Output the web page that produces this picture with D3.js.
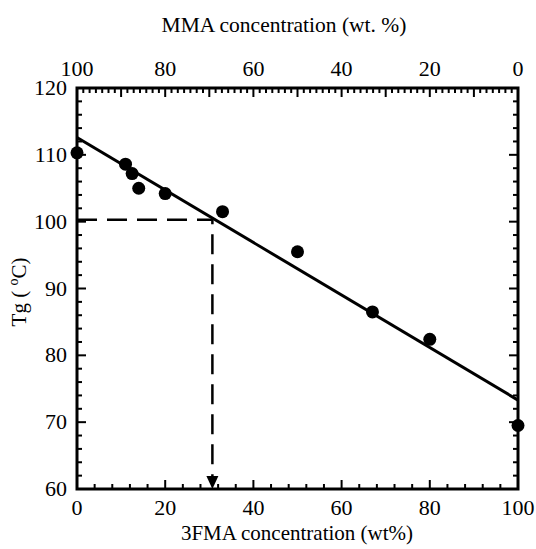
<!DOCTYPE html>
<html>
<head>
<meta charset="utf-8">
<script src="https://cdn.jsdelivr.net/npm/d3@7"></script>
<style>
  body { margin: 0; background: #fff; }
  svg text { font-family: "Liberation Serif", "Times New Roman", serif; fill: #000; }
</style>
</head>
<body>
<div id="plot"></div>
<script>
// data: 3FMA wt% vs Tg (C)
const fmaConc = [0, 11, 12.5, 14, 20, 33, 50, 67, 80, 100];
const tgValues = [110.3, 108.6, 107.2, 105, 104.2, 101.5, 95.5, 86.5, 82.4, 69.5];
const fitLine = [[0, 112.6], [100, 73.3]]; // linear fit ends
const guideX = 30.7, guideY = 100.3; // dashed read-off at 100 C

const bottomTicks = [0, 20, 40, 60, 80, 100];
const topTicks = [100, 80, 60, 40, 20, 0]; // MMA = 100 - 3FMA
const yTicks = [60, 70, 80, 90, 100, 110, 120];

const width = 536, height = 549;
const margin = { top: 88, right: 18, bottom: 60, left: 77 };
const innerW = width - margin.left - margin.right;
const innerH = height - margin.top - margin.bottom;

const svg = d3.select("div#plot").append("svg")
    .attr("width", width)
    .attr("height", height);

const g = svg.append("g").attr("transform", `translate(${margin.left},${margin.top})`);

const x = d3.scaleLinear().domain([0, 100]).range([0, innerW]);
const xTop = d3.scaleLinear().domain([100, 0]).range([0, innerW]);
const y = d3.scaleLinear().domain([60, 120]).range([innerH, 0]);

// minor ticks, all pointing inward
const tickG = g.append("g").attr("stroke", "#000").attr("stroke-width", 2);

d3.range(0, 100.01, 4).forEach(v => {
    const len = v % 20 === 0 ? 9 : 5;
    tickG.append("line").attr("x1", x(v)).attr("x2", x(v)).attr("y1", innerH).attr("y2", innerH - len);
});
d3.range(0, 100.01, 10 / 7).forEach(v => {
    const major = Math.abs(v - Math.round(v / 10) * 10) < 0.01;
    const len = major ? 9 : 5;
    tickG.append("line").attr("x1", xTop(v)).attr("x2", xTop(v)).attr("y1", 0).attr("y2", len);
});
d3.range(60, 120.01, 2).forEach(v => {
    const len = v % 10 === 0 ? 9 : 5;
    tickG.append("line").attr("x1", 0).attr("x2", len).attr("y1", y(v)).attr("y2", y(v));
    tickG.append("line").attr("x1", innerW).attr("x2", innerW - len).attr("y1", y(v)).attr("y2", y(v));
});

// tick labels
g.selectAll("text.xb").data(bottomTicks).enter().append("text")
    .attr("class", "xb")
    .attr("x", d => x(d)).attr("y", innerH + 26)
    .attr("text-anchor", "middle").attr("font-size", 22)
    .text(d => d);

g.selectAll("text.xt").data(topTicks).enter().append("text")
    .attr("class", "xt")
    .attr("x", d => xTop(d)).attr("y", -12)
    .attr("text-anchor", "middle").attr("font-size", 22)
    .text(d => d);

g.selectAll("text.yl").data(yTicks).enter().append("text")
    .attr("class", "yl")
    .attr("x", -10).attr("y", d => y(d) + 7)
    .attr("text-anchor", "end").attr("font-size", 22)
    .text(d => d);

// axis titles
svg.append("text")
    .attr("x", 284).attr("y", 32)
    .attr("text-anchor", "middle").attr("font-size", 21.5)
    .text("MMA concentration (wt. %)");

svg.append("text")
    .attr("x", 297).attr("y", 540)
    .attr("text-anchor", "middle").attr("font-size", 21)
    .text("3FMA concentration (wt%)");

const yTitle = svg.append("text")
    .attr("transform", "translate(26,292) rotate(-90)")
    .attr("text-anchor", "middle").attr("font-size", 21);
yTitle.append("tspan").text("Tg ( ");
yTitle.append("tspan").attr("font-size", 14).attr("dy", -8).text("o");
yTitle.append("tspan").attr("dy", 8).text("C)");

// dashed guide
const guide = d3.line().x(d => x(d[0])).y(d => y(d[1]));
g.append("path")
    .attr("d", guide([[0, guideY], [guideX, guideY], [guideX, 61.8]]))
    .attr("fill", "none").attr("stroke", "#000").attr("stroke-width", 2.5)
    .attr("stroke-dasharray", "20,10");

// arrow head
const ax = x(guideX), ay = y(60);
g.append("path")
    .attr("d", `M${ax - 6},${ay - 13} L${ax + 6},${ay - 13} L${ax},${ay} Z`)
    .attr("fill", "#000");

// fitted line
g.append("path")
    .attr("d", d3.line().x(d => x(d[0])).y(d => y(d[1]))(fitLine))
    .attr("fill", "none").attr("stroke", "#000").attr("stroke-width", 3);

// data points
g.selectAll("circle").data(fmaConc).enter().append("circle")
    .attr("cx", d => x(d))
    .attr("cy", (d, i) => y(tgValues[i]))
    .attr("r", 6.5)
    .attr("fill", "#000");

// frame
g.append("rect")
    .attr("width", innerW).attr("height", innerH)
    .attr("fill", "none").attr("stroke", "#000").attr("stroke-width", 3);
</script>
</body>
</html>
